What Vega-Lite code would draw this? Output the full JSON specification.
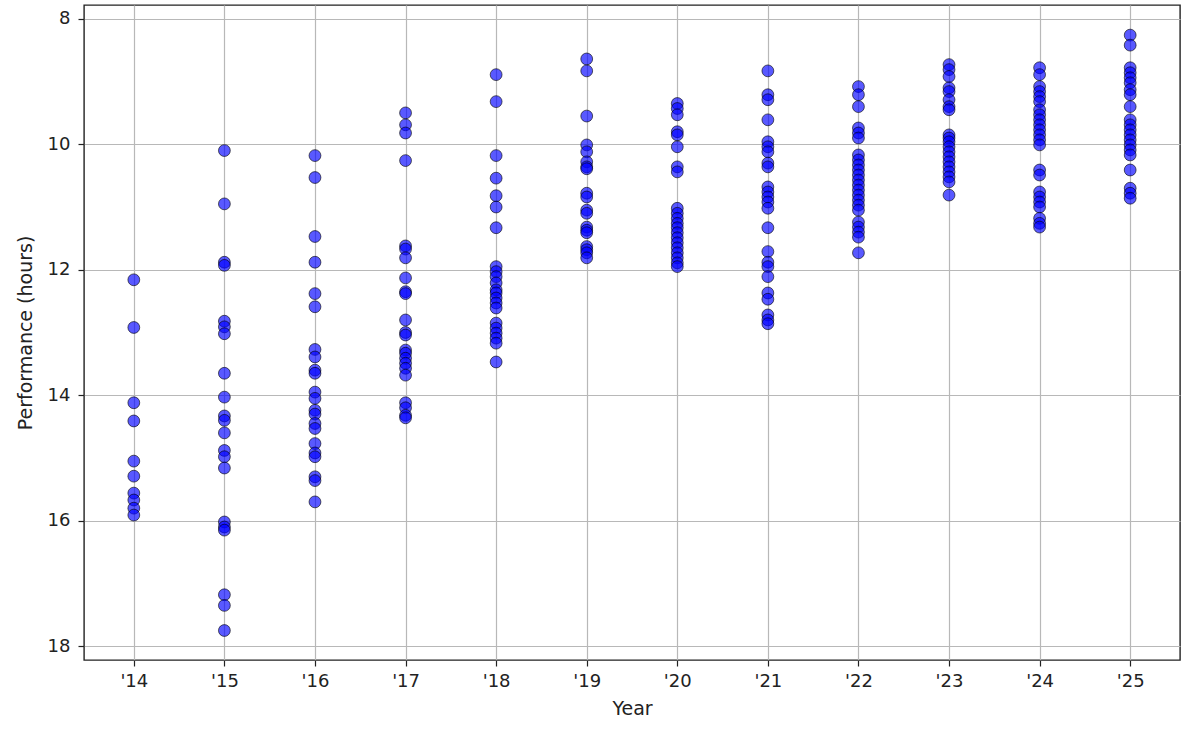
{
  "$schema": "https://vega.github.io/schema/vega-lite/v6.json",
  "width": 1096,
  "height": 655,
  "autosize": {"type": "none"},
  "padding": {"left": 84, "top": 5, "right": 20, "bottom": 70},
  "background": "white",
  "config": {
    "font": "DejaVu Sans",
    "view": {"stroke": "#222222", "strokeWidth": 1.4},
    "axis": {
      "labelFont": "DejaVu Sans",
      "titleFont": "DejaVu Sans",
      "labelFontSize": 18,
      "titleFontSize": 19,
      "titleFontWeight": "normal",
      "labelColor": "#222222",
      "titleColor": "#222222",
      "tickColor": "#222222",
      "tickSize": 6,
      "tickWidth": 1.2,
      "domain": false,
      "gridColor": "#b8b8b8",
      "gridWidth": 1.2,
      "labelPadding": 6
    }
  },
  "data": {
    "values": [
      {"Year":2014,"Hours":12.16},{"Year":2014,"Hours":12.92},{"Year":2014,"Hours":14.12},{"Year":2014,"Hours":14.41},{"Year":2014,"Hours":15.05},{"Year":2014,"Hours":15.29},{"Year":2014,"Hours":15.56},{"Year":2014,"Hours":15.67},{"Year":2014,"Hours":15.8},{"Year":2014,"Hours":15.91},
      {"Year":2015,"Hours":10.1},{"Year":2015,"Hours":10.95},{"Year":2015,"Hours":11.88},{"Year":2015,"Hours":11.93},{"Year":2015,"Hours":12.82},{"Year":2015,"Hours":12.91},{"Year":2015,"Hours":13.02},{"Year":2015,"Hours":13.65},{"Year":2015,"Hours":14.03},{"Year":2015,"Hours":14.33},{"Year":2015,"Hours":14.4},{"Year":2015,"Hours":14.6},{"Year":2015,"Hours":14.88},{"Year":2015,"Hours":14.98},{"Year":2015,"Hours":15.16},{"Year":2015,"Hours":16.02},{"Year":2015,"Hours":16.1},{"Year":2015,"Hours":16.15},{"Year":2015,"Hours":17.18},{"Year":2015,"Hours":17.35},{"Year":2015,"Hours":17.75},
      {"Year":2016,"Hours":10.18},{"Year":2016,"Hours":10.53},{"Year":2016,"Hours":11.47},{"Year":2016,"Hours":11.88},{"Year":2016,"Hours":12.38},{"Year":2016,"Hours":12.59},{"Year":2016,"Hours":13.27},{"Year":2016,"Hours":13.39},{"Year":2016,"Hours":13.6},{"Year":2016,"Hours":13.65},{"Year":2016,"Hours":13.95},{"Year":2016,"Hours":14.05},{"Year":2016,"Hours":14.24},{"Year":2016,"Hours":14.3},{"Year":2016,"Hours":14.45},{"Year":2016,"Hours":14.53},{"Year":2016,"Hours":14.77},{"Year":2016,"Hours":14.92},{"Year":2016,"Hours":14.98},{"Year":2016,"Hours":15.3},{"Year":2016,"Hours":15.36},{"Year":2016,"Hours":15.7},
      {"Year":2017,"Hours":9.5},{"Year":2017,"Hours":9.69},{"Year":2017,"Hours":9.82},{"Year":2017,"Hours":10.26},{"Year":2017,"Hours":11.62},{"Year":2017,"Hours":11.67},{"Year":2017,"Hours":11.81},{"Year":2017,"Hours":12.13},{"Year":2017,"Hours":12.35},{"Year":2017,"Hours":12.38},{"Year":2017,"Hours":12.8},{"Year":2017,"Hours":13.0},{"Year":2017,"Hours":13.04},{"Year":2017,"Hours":13.28},{"Year":2017,"Hours":13.33},{"Year":2017,"Hours":13.41},{"Year":2017,"Hours":13.49},{"Year":2017,"Hours":13.57},{"Year":2017,"Hours":13.68},{"Year":2017,"Hours":14.12},{"Year":2017,"Hours":14.2},{"Year":2017,"Hours":14.32},{"Year":2017,"Hours":14.36},
      {"Year":2018,"Hours":8.89},{"Year":2018,"Hours":9.32},{"Year":2018,"Hours":10.18},{"Year":2018,"Hours":10.54},{"Year":2018,"Hours":10.82},{"Year":2018,"Hours":11.0},{"Year":2018,"Hours":11.33},{"Year":2018,"Hours":11.95},{"Year":2018,"Hours":12.03},{"Year":2018,"Hours":12.11},{"Year":2018,"Hours":12.21},{"Year":2018,"Hours":12.32},{"Year":2018,"Hours":12.37},{"Year":2018,"Hours":12.45},{"Year":2018,"Hours":12.53},{"Year":2018,"Hours":12.61},{"Year":2018,"Hours":12.85},{"Year":2018,"Hours":12.93},{"Year":2018,"Hours":13.01},{"Year":2018,"Hours":13.09},{"Year":2018,"Hours":13.17},{"Year":2018,"Hours":13.47},
      {"Year":2019,"Hours":8.64},{"Year":2019,"Hours":8.83},{"Year":2019,"Hours":9.55},{"Year":2019,"Hours":10.01},{"Year":2019,"Hours":10.12},{"Year":2019,"Hours":10.28},{"Year":2019,"Hours":10.36},{"Year":2019,"Hours":10.39},{"Year":2019,"Hours":10.78},{"Year":2019,"Hours":10.84},{"Year":2019,"Hours":11.05},{"Year":2019,"Hours":11.1},{"Year":2019,"Hours":11.32},{"Year":2019,"Hours":11.37},{"Year":2019,"Hours":11.41},{"Year":2019,"Hours":11.63},{"Year":2019,"Hours":11.68},{"Year":2019,"Hours":11.73},{"Year":2019,"Hours":11.81},
      {"Year":2020,"Hours":9.35},{"Year":2020,"Hours":9.43},{"Year":2020,"Hours":9.53},{"Year":2020,"Hours":9.8},{"Year":2020,"Hours":9.85},{"Year":2020,"Hours":10.04},{"Year":2020,"Hours":10.36},{"Year":2020,"Hours":10.44},{"Year":2020,"Hours":11.02},{"Year":2020,"Hours":11.1},{"Year":2020,"Hours":11.18},{"Year":2020,"Hours":11.26},{"Year":2020,"Hours":11.33},{"Year":2020,"Hours":11.41},{"Year":2020,"Hours":11.49},{"Year":2020,"Hours":11.57},{"Year":2020,"Hours":11.65},{"Year":2020,"Hours":11.73},{"Year":2020,"Hours":11.81},{"Year":2020,"Hours":11.89},{"Year":2020,"Hours":11.95},
      {"Year":2021,"Hours":8.83},{"Year":2021,"Hours":9.21},{"Year":2021,"Hours":9.29},{"Year":2021,"Hours":9.61},{"Year":2021,"Hours":9.96},{"Year":2021,"Hours":10.04},{"Year":2021,"Hours":10.12},{"Year":2021,"Hours":10.3},{"Year":2021,"Hours":10.36},{"Year":2021,"Hours":10.68},{"Year":2021,"Hours":10.76},{"Year":2021,"Hours":10.84},{"Year":2021,"Hours":10.92},{"Year":2021,"Hours":11.02},{"Year":2021,"Hours":11.33},{"Year":2021,"Hours":11.71},{"Year":2021,"Hours":11.88},{"Year":2021,"Hours":11.95},{"Year":2021,"Hours":12.11},{"Year":2021,"Hours":12.37},{"Year":2021,"Hours":12.47},{"Year":2021,"Hours":12.72},{"Year":2021,"Hours":12.8},{"Year":2021,"Hours":12.86},
      {"Year":2022,"Hours":9.08},{"Year":2022,"Hours":9.21},{"Year":2022,"Hours":9.4},{"Year":2022,"Hours":9.74},{"Year":2022,"Hours":9.82},{"Year":2022,"Hours":9.9},{"Year":2022,"Hours":10.17},{"Year":2022,"Hours":10.25},{"Year":2022,"Hours":10.33},{"Year":2022,"Hours":10.41},{"Year":2022,"Hours":10.49},{"Year":2022,"Hours":10.57},{"Year":2022,"Hours":10.65},{"Year":2022,"Hours":10.73},{"Year":2022,"Hours":10.81},{"Year":2022,"Hours":10.89},{"Year":2022,"Hours":10.97},{"Year":2022,"Hours":11.05},{"Year":2022,"Hours":11.24},{"Year":2022,"Hours":11.32},{"Year":2022,"Hours":11.4},{"Year":2022,"Hours":11.48},{"Year":2022,"Hours":11.73},
      {"Year":2023,"Hours":8.73},{"Year":2023,"Hours":8.81},{"Year":2023,"Hours":8.92},{"Year":2023,"Hours":9.1},{"Year":2023,"Hours":9.16},{"Year":2023,"Hours":9.29},{"Year":2023,"Hours":9.4},{"Year":2023,"Hours":9.45},{"Year":2023,"Hours":9.85},{"Year":2023,"Hours":9.9},{"Year":2023,"Hours":9.96},{"Year":2023,"Hours":10.04},{"Year":2023,"Hours":10.12},{"Year":2023,"Hours":10.2},{"Year":2023,"Hours":10.28},{"Year":2023,"Hours":10.36},{"Year":2023,"Hours":10.44},{"Year":2023,"Hours":10.52},{"Year":2023,"Hours":10.6},{"Year":2023,"Hours":10.81},
      {"Year":2024,"Hours":8.78},{"Year":2024,"Hours":8.89},{"Year":2024,"Hours":9.08},{"Year":2024,"Hours":9.16},{"Year":2024,"Hours":9.24},{"Year":2024,"Hours":9.32},{"Year":2024,"Hours":9.45},{"Year":2024,"Hours":9.53},{"Year":2024,"Hours":9.61},{"Year":2024,"Hours":9.69},{"Year":2024,"Hours":9.77},{"Year":2024,"Hours":9.85},{"Year":2024,"Hours":9.93},{"Year":2024,"Hours":10.01},{"Year":2024,"Hours":10.41},{"Year":2024,"Hours":10.49},{"Year":2024,"Hours":10.76},{"Year":2024,"Hours":10.84},{"Year":2024,"Hours":10.92},{"Year":2024,"Hours":11.0},{"Year":2024,"Hours":11.18},{"Year":2024,"Hours":11.26},{"Year":2024,"Hours":11.32},
      {"Year":2025,"Hours":8.26},{"Year":2025,"Hours":8.42},{"Year":2025,"Hours":8.78},{"Year":2025,"Hours":8.86},{"Year":2025,"Hours":8.94},{"Year":2025,"Hours":9.02},{"Year":2025,"Hours":9.13},{"Year":2025,"Hours":9.21},{"Year":2025,"Hours":9.4},{"Year":2025,"Hours":9.61},{"Year":2025,"Hours":9.69},{"Year":2025,"Hours":9.77},{"Year":2025,"Hours":9.85},{"Year":2025,"Hours":9.93},{"Year":2025,"Hours":10.01},{"Year":2025,"Hours":10.09},{"Year":2025,"Hours":10.17},{"Year":2025,"Hours":10.41},{"Year":2025,"Hours":10.7},{"Year":2025,"Hours":10.78},{"Year":2025,"Hours":10.86}
    ]
  },
  "mark": {
    "type": "point",
    "shape": "circle",
    "filled": true,
    "fill": "blue",
    "fillOpacity": 0.65,
    "stroke": "black",
    "strokeOpacity": 0.6,
    "strokeWidth": 1,
    "size": 140
  },
  "encoding": {
    "x": {
      "field": "Year",
      "type": "quantitative",
      "scale": {"domain": [2013.45, 2025.55], "nice": false, "zero": false},
      "axis": {
        "title": "Year",
        "values": [2014,2015,2016,2017,2018,2019,2020,2021,2022,2023,2024,2025],
        "labelExpr": "\"'\" + slice(toString(datum.value), 2)",
        "labelPadding": 6,
        "titlePadding": 9
      }
    },
    "y": {
      "field": "Hours",
      "type": "quantitative",
      "scale": {"domain": [7.78, 18.22], "nice": false, "zero": false, "reverse": true},
      "axis": {
        "title": "Performance (hours)",
        "values": [8,10,12,14,16,18],
        "format": "d",
        "labelPadding": 8,
        "titlePadding": 12
      }
    }
  }
}
